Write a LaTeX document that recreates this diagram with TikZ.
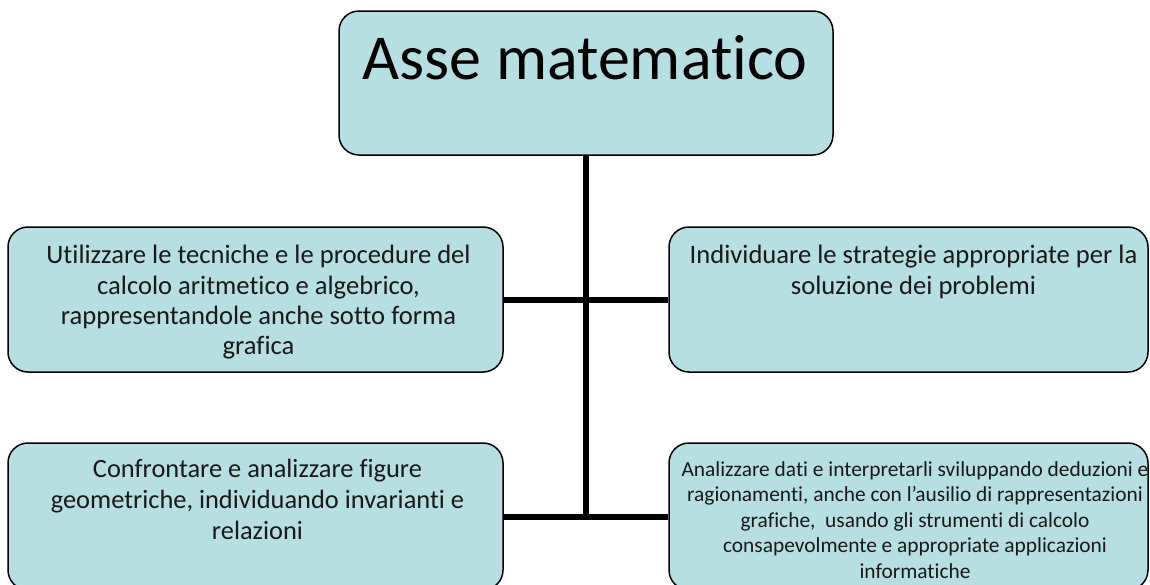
\documentclass[tikz,border=0pt]{standalone}
\usepackage{fontspec}
\setmainfont{Carlito}[Ligatures={NoCommon}]
\usetikzlibrary{calc}
\definecolor{boxfill}{RGB}{183,222,225}
\tikzset{
  box/.style={draw=black, line width=1.5pt, fill=boxfill, rounded corners=20pt, inner sep=0pt},
  conn/.style={draw=black, line width=6pt},
  txt/.style={inner sep=0pt, align=center, anchor=north, text=black!90},
}
\begin{document}
\begin{tikzpicture}[x=1pt,y=-1pt]
\useasboundingbox (0,0) rectangle (1150,584);
% boxes
\node[box, minimum width=494pt, minimum height=144pt] (top) at (586,83) {};
\node[box, minimum width=495pt, minimum height=145pt] (tl) at (255.5,299.5) {};
\node[box, minimum width=479pt, minimum height=145pt] (tr) at (908.5,299.5) {};
\node[box, minimum width=495pt, minimum height=147pt] (bl) at (255.5,516.5) {};
\node[box, minimum width=479pt, minimum height=147pt] (br) at (908.5,516.5) {};
% connectors
\coordinate (jb) at (top.south |- bl.east);
\draw[conn] (top.south) -- (jb);
\draw[conn] (tl.east) -- (tr.west);
\draw[conn] (bl.east) -- (br.west);
% texts
\node[inner sep=0pt, anchor=base, font=\fontsize{64}{76}\selectfont] (ttop) at ($(top.north)+(-1,69)$)
  {Asse matematico};
\node[txt, font=\fontsize{26.6}{30.3}\selectfont] (ttl) at ($(tl.north)+(3,19)$)
  {Utilizzare le tecniche e le procedure del\\
   calcolo aritmetico e algebrico,\\ rappresentandole anche sotto forma\\ grafica};
\node[txt, font=\fontsize{26.6}{30.3}\selectfont] (ttr) at ($(tr.north)+(5,19)$)
  {Individuare le strategie appropriate per la\\ soluzione dei problemi};
\node[txt, font=\fontsize{26.4}{31}\selectfont] (tbl) at ($(bl.north)+(2,16.5)$)
  {Confrontare e analizzare figure\\
   geometriche, individuando invarianti e\\ relazioni};
\node[txt, font=\fontsize{21.4}{25.5}\selectfont] (tbr) at ($(br.north)+(6.5,19)$)
  {Analizzare dati e interpretarli sviluppando deduzioni e\\
   ragionamenti, anche con l’ausilio di rappresentazioni\\
   grafiche,\ \ usando gli strumenti di calcolo\\
   consapevolmente e appropriate applicazioni\\ informatiche};
\end{tikzpicture}
\end{document}
